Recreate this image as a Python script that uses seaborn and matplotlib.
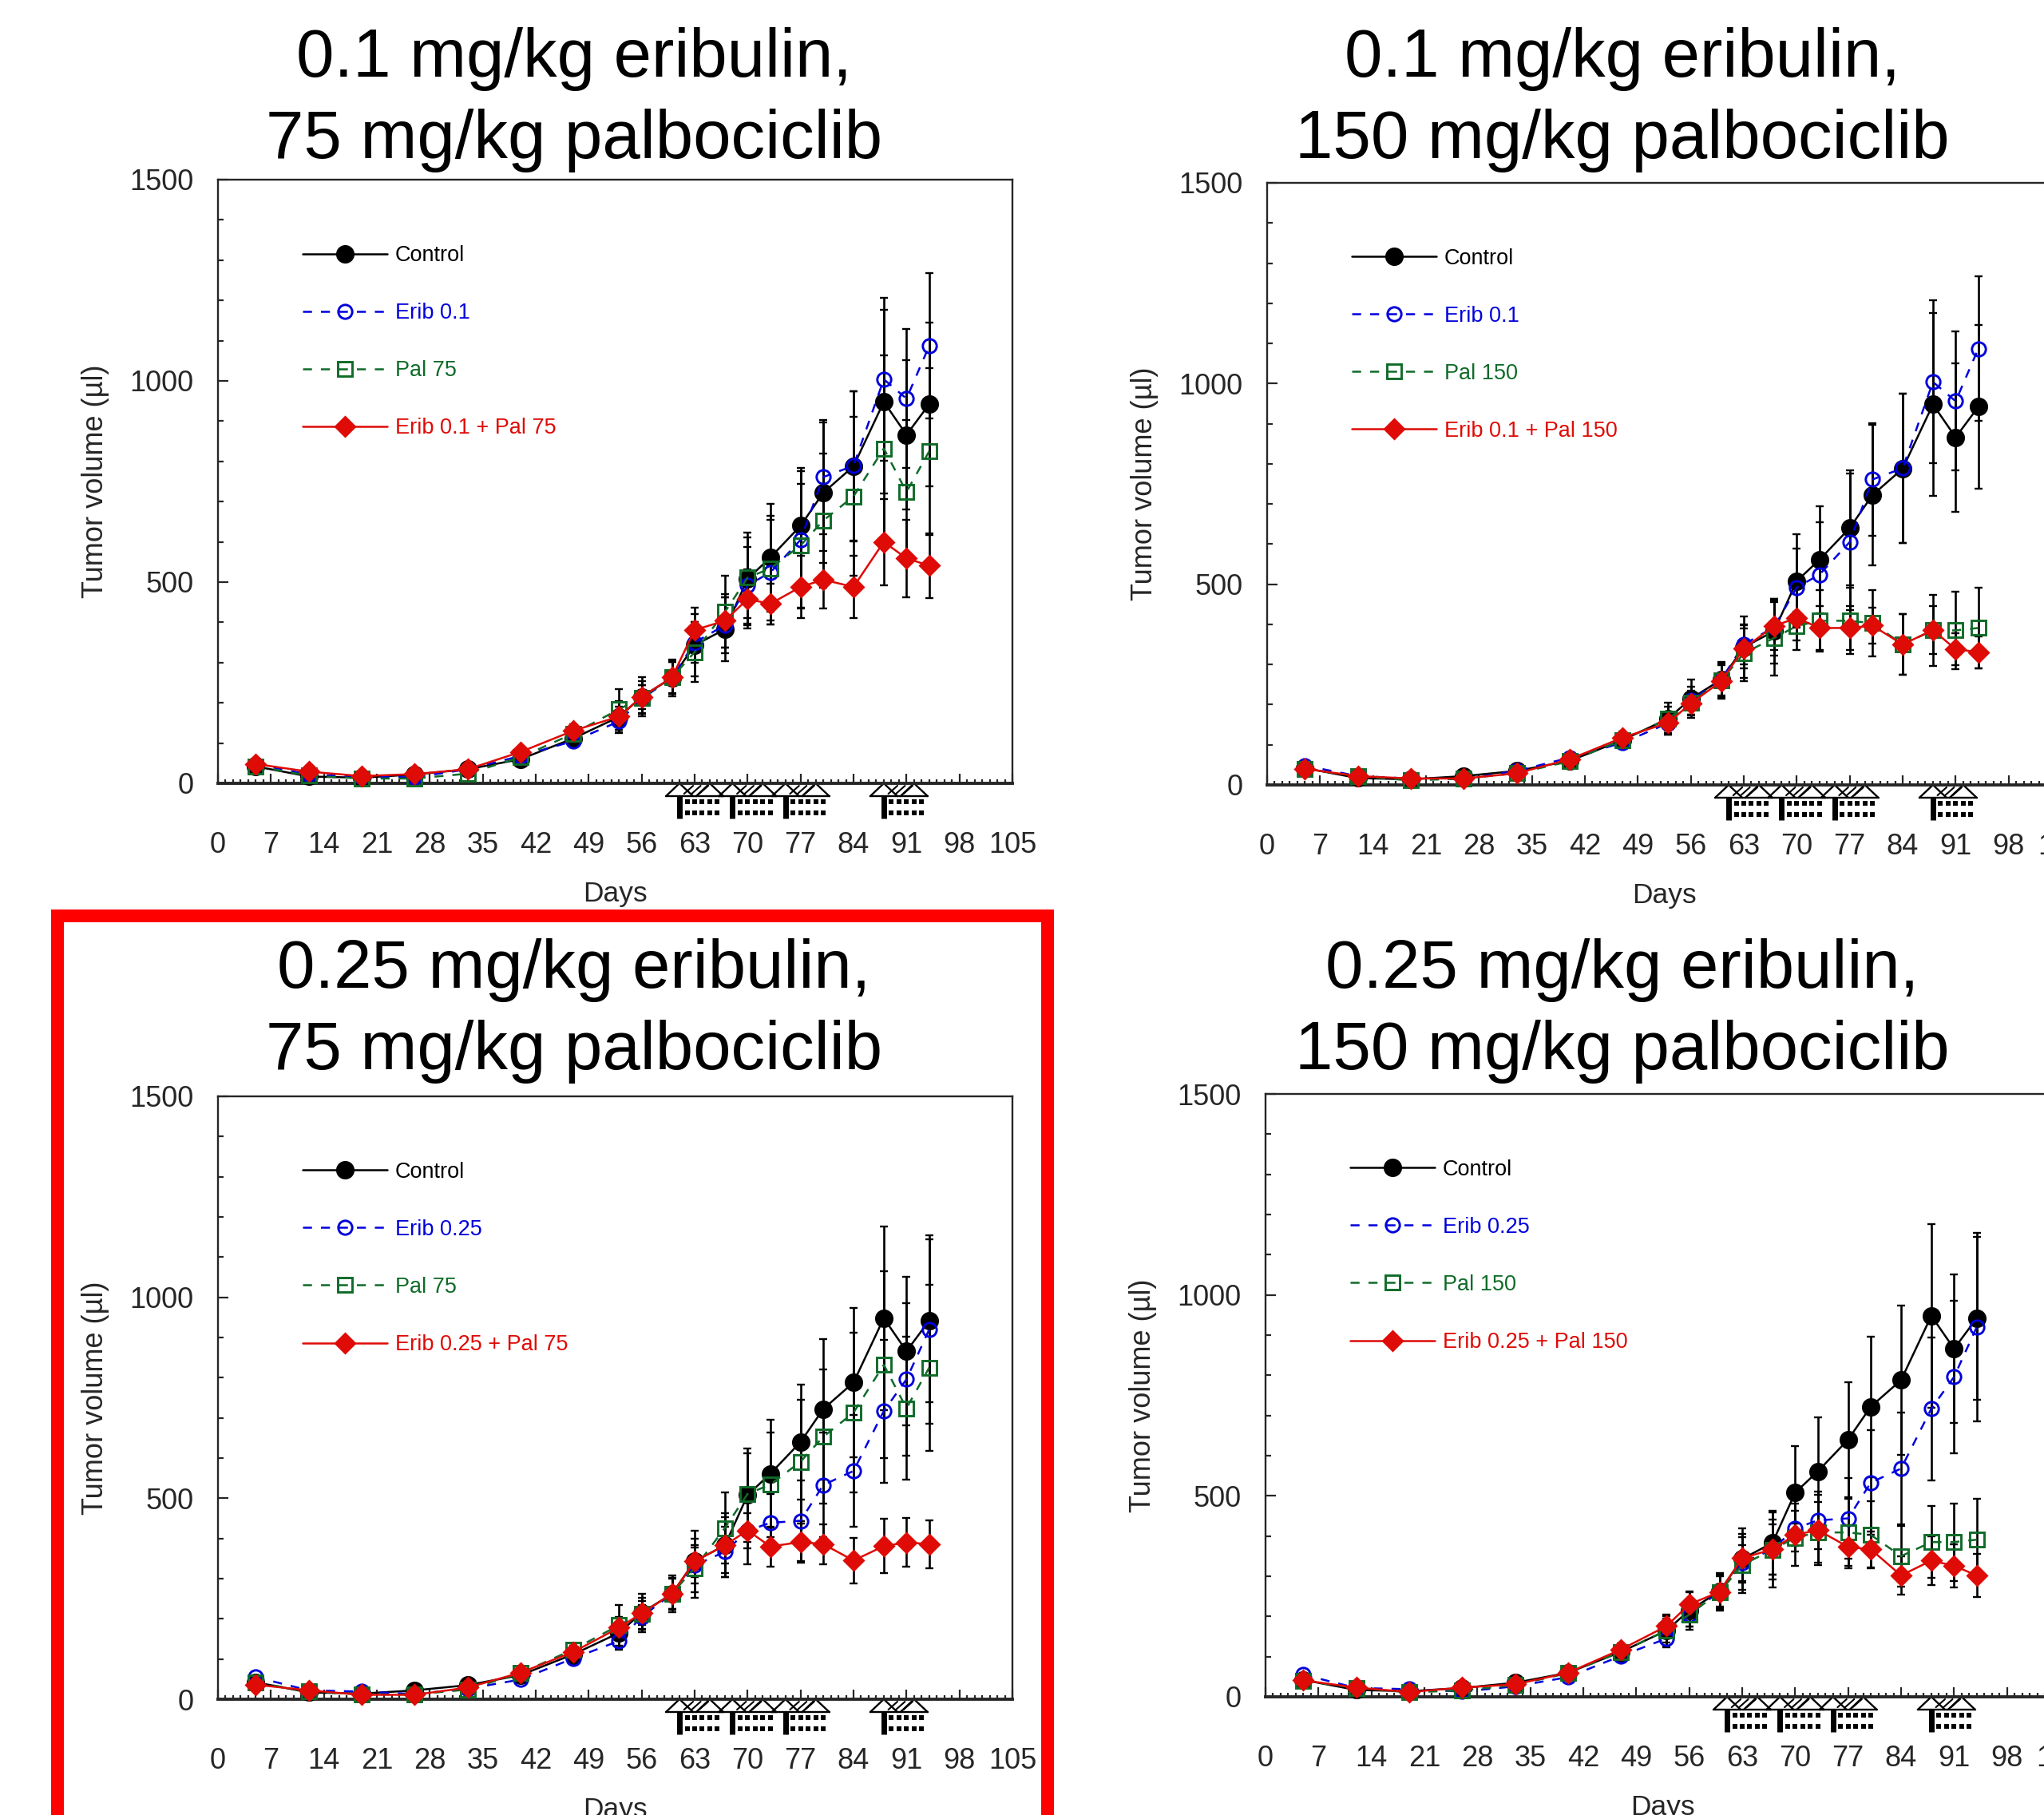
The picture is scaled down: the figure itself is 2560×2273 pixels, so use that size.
import matplotlib
matplotlib.use('Agg')
import matplotlib.pyplot as plt
from matplotlib.patches import Rectangle
import seaborn as sns

sns.set_style('ticks')
plt.rcParams['font.family'] = ['Liberation Sans', 'DejaVu Sans']

W, H = 2560, 2273
BLACK, BLUE, GREEN, RED = '#000000', '#0000dc', '#0f6b28', '#de0b06'

# measurement days and x ticks
days = [5, 12, 19, 26, 33, 40, 47, 53, 56, 60, 63, 67, 70, 73, 77, 80, 84, 88, 91, 94]
x_ticks = list(range(0, 106, 7))
y_ticks = [0, 500, 1000, 1500]

# series
control = [42, 17, 14, 22, 35, 60, 112, 165, 215, 262, 343, 383, 508, 561, 640, 722, 788, 948, 866, 942]
control_err = [8, 5, 4, 6, 8, 12, 20, 40, 48, 45, 77, 80, 116, 134, 143, 175, 186, 228, 185, 203]
erib_01 = [48, 22, 16, 15, 35, 68, 105, 154, 210, 262, 350, 393, 492, 524, 605, 761, 789, 1004, 956, 1087]
erib_01_err = [5, 4, 3, 4, 6, 10, 15, 28, 35, 40, 50, 70, 96, 130, 170, 141, 186, 203, 173, 180]
erib_025 = [55, 22, 19, 13, 26, 49, 102, 145, 205, 262, 333, 367, 419, 439, 444, 533, 568, 717, 796, 920]
erib_025_err = [5, 4, 3, 4, 6, 8, 15, 22, 30, 38, 45, 63, 43, 72, 101, 130, 139, 178, 190, 235]
pal_75 = [42, 19, 12, 12, 24, 65, 124, 184, 213, 263, 326, 426, 511, 534, 591, 653, 713, 832, 724, 825]
pal_75_err = [4, 4, 3, 4, 6, 10, 16, 51, 40, 38, 74, 89, 101, 130, 154, 167, 198, 232, 178, 207]
pal_150 = [40, 22, 11, 16, 29, 59, 112, 165, 205, 260, 328, 366, 396, 409, 409, 403, 350, 385, 385, 391]
pal_150_err = [4, 4, 3, 4, 6, 8, 14, 30, 30, 45, 70, 93, 35, 76, 83, 83, 76, 89, 96, 101]
combo_01_75 = [48, 29, 18, 23, 35, 78, 131, 166, 215, 263, 381, 404, 458, 446, 488, 506, 488, 600, 559, 541]
combo_01_75_err = [3, 3, 3, 3, 4, 8, 15, 25, 30, 40, 55, 66, 73, 51, 78, 72, 78, 107, 96, 81]
combo_01_150 = [40, 22, 16, 16, 29, 64, 118, 155, 203, 258, 340, 396, 416, 391, 391, 397, 350, 386, 338, 331]
combo_01_150_err = [3, 3, 3, 3, 4, 8, 15, 25, 30, 40, 50, 60, 80, 55, 55, 45, 76, 60, 40, 40]
combo_025_75 = [36, 22, 11, 11, 29, 66, 118, 178, 214, 262, 343, 383, 420, 380, 391, 386, 345, 381, 390, 386]
combo_025_75_err = [3, 3, 3, 3, 4, 8, 15, 25, 30, 40, 40, 70, 84, 50, 52, 50, 57, 68, 61, 60]
combo_025_150 = [41, 23, 12, 23, 31, 60, 118, 176, 230, 261, 345, 367, 403, 415, 373, 367, 302, 339, 326, 302]
combo_025_150_err = [3, 3, 3, 3, 4, 8, 15, 25, 30, 40, 60, 74, 77, 88, 54, 45, 48, 61, 54, 54]

# dosing weeks shown under the axis
dose_weeks = [61, 68, 75, 88]

# title, labels, series, axes box in pixels (left, top, right, bottom), title centre
panels = [
    ('0.1 mg/kg eribulin,\n75 mg/kg palbociclib', 'Erib 0.1', 'Pal 75', 'Erib 0.1 + Pal 75',
     erib_01, erib_01_err, pal_75, pal_75_err, combo_01_75, combo_01_75_err,
     (273, 225, 1268, 981), (719, 125)),
    ('0.1 mg/kg eribulin,\n150 mg/kg palbociclib', 'Erib 0.1', 'Pal 150', 'Erib 0.1 + Pal 150',
     erib_01, erib_01_err, pal_150, pal_150_err, combo_01_150, combo_01_150_err,
     (1587, 229, 2582, 983), (2032, 125)),
    ('0.25 mg/kg eribulin,\n75 mg/kg palbociclib', 'Erib 0.25', 'Pal 75', 'Erib 0.25 + Pal 75',
     erib_025, erib_025_err, pal_75, pal_75_err, combo_025_75, combo_025_75_err,
     (273, 1373, 1268, 2128), (719, 1266)),
    ('0.25 mg/kg eribulin,\n150 mg/kg palbociclib', 'Erib 0.25', 'Pal 150', 'Erib 0.25 + Pal 150',
     erib_025, erib_025_err, pal_150, pal_150_err, combo_025_150, combo_025_150_err,
     (1585, 1370, 2580, 2125), (2032, 1266)),
]

fig = plt.figure(figsize=(W / 100, H / 100), dpi=100, facecolor='white')


def draw_series(ax, vals, errs, label, color, marker, size, dashed, filled):
    ax.errorbar(days, vals, yerr=errs, fmt='none', ecolor='black', elinewidth=1.9,
                capsize=3.6, capthick=1.7, zorder=2, clip_on=False)
    sns.lineplot(x=days, y=vals, ax=ax, color=color, label=label, errorbar=None,
                 linestyle=(0, (4.5, 4.5)) if dashed else '-', linewidth=1.8,
                 marker=marker, markersize=size, markeredgewidth=2.1, markeredgecolor=color,
                 markerfacecolor=color if filled else 'none', clip_on=False, zorder=3)


def draw_doses(ax):
    for d in dose_weeks:
        # open triangles on a base line, slashes between them
        for t in [d, d + 4]:
            ax.plot([t - 1.8, t, t + 1.8], [-32, 0, -32], color='black', lw=1.7, clip_on=False)
        ax.plot([d - 1.8, d + 5.8], [-32, -32], color='black', lw=1.7, clip_on=False)
        for s in [d + 1.2, d + 2.2, d + 3.2]:
            ax.plot([s - 0.6, s + 0.6], [-26, -6], color='black', lw=1.5, clip_on=False)
        ax.plot([d, d], [-32, -88], color='black', lw=5, clip_on=False, solid_capstyle='butt')
        for row in [-46, -74]:
            ax.plot([d + k for k in range(1, 6)], [row] * 5, ls='none', marker='s', ms=5,
                    color='black', mew=0, clip_on=False)


for title, erib_lab, pal_lab, combo_lab, erib, erib_err, pal, pal_err, combo, combo_err, box, tc in panels:
    left, top, right, bottom = box
    ax = fig.add_axes([left / W, 1 - bottom / H, (right - left) / W, (bottom - top) / H])

    draw_series(ax, control, control_err, 'Control', BLACK, 'o', 14.5, False, True)
    draw_series(ax, erib, erib_err, erib_lab, BLUE, 'o', 12.5, True, False)
    draw_series(ax, pal, pal_err, pal_lab, GREEN, 's', 12.5, True, False)
    draw_series(ax, combo, combo_err, combo_lab, RED, 'D', 12, False, True)
    draw_doses(ax)

    ax.set_xlim(0, 105)
    ax.set_ylim(0, 1500)
    ax.set_xticks(x_ticks)
    ax.set_xticks(range(0, 106), minor=True)
    ax.set_yticks(y_ticks)
    ax.set_yticks(range(0, 1501, 100), minor=True)
    ax.tick_params(axis='x', which='major', direction='in', length=8.5, width=1.6, labelsize=26, pad=43)
    ax.tick_params(axis='x', which='minor', direction='in', length=3.5, width=1.6)
    ax.tick_params(axis='y', which='major', direction='in', length=9.5, width=1.6, labelsize=26, pad=22)
    ax.tick_params(axis='y', which='minor', direction='in', length=5, width=1.6)
    for side in ax.spines.values():
        side.set_linewidth(1.7)
    ax.spines['bottom'].set_linewidth(2.8)

    ax.set_xlabel('Days', fontsize=25.5)
    ax.set_ylabel('Tumor volume (µl)', fontsize=26)
    ax.xaxis.set_label_coords(0.5, -122 / (bottom - top), transform=ax.transAxes)
    ax.yaxis.set_label_coords(-136 / (right - left), 0.5, transform=ax.transAxes)

    # legend sits inside the plot, text coloured like the lines
    ax.legend(loc='upper left', bbox_to_anchor=(106 / 995, 1 - 82 / 756), frameon=False, fontsize=19.5,
              handlelength=3.9, handletextpad=0.38, labelspacing=1.70, borderpad=0, borderaxespad=0,
              labelcolor='linecolor')

    fig.text(tc[0] / W, 1 - tc[1] / H, title, ha='center', va='center', multialignment='center',
             fontsize=61.3, linespacing=1.34, color='black')

# red frame round the lower left panel, runs off the bottom of the image
fig.add_artist(Rectangle((72 / W, -0.05), 1240 / W, 1 - 1147 / H + 0.05, transform=fig.transFigure,
                         fill=False, edgecolor='#ff0000', linewidth=11.5, zorder=10))

fig.savefig('out.png', dpi=100)
